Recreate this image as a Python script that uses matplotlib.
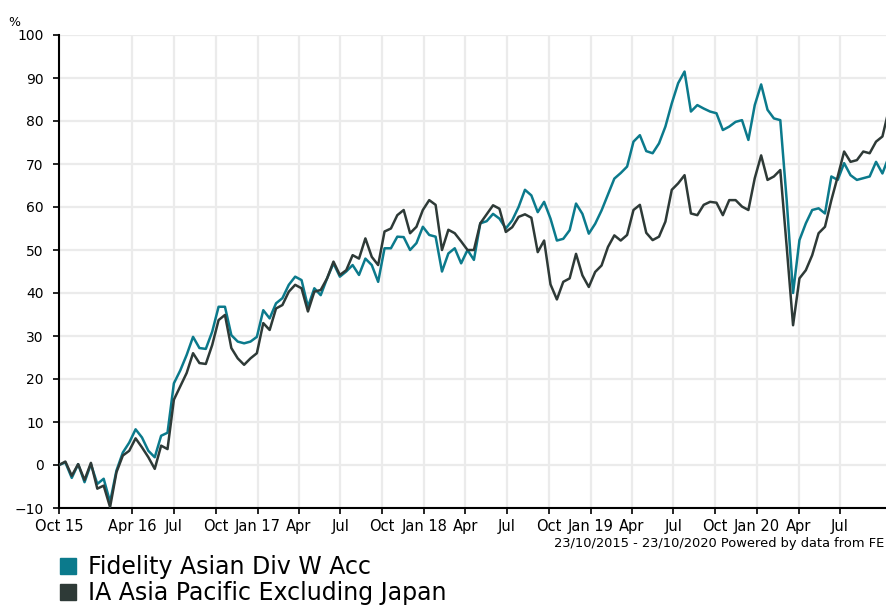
import matplotlib
matplotlib.use("Agg")
from matplotlib import pyplot as plt
from matplotlib.patches import Patch
import pandas as pd

# fortnightly cumulative performance, %
start_date = "2015-10-23"
fidelity = [
    0, 0.6, -3, 0.2, -4, 0.2, -4.4, -3.2, -8.6, -1.3,
    2.9, 5.2, 8.3, 6.4, 3.3, 1.8, 6.8, 7.5, 19, 22,
    25.6, 29.8, 27.2, 27, 31, 36.8, 36.8, 30.2, 28.7, 28.3,
    28.7, 29.8, 36, 34.1, 37.6, 38.8, 41.9, 43.8, 43, 36.8,
    41.1, 39.5, 43.4, 46.9, 43.8, 45, 46.5, 44.2, 48, 46.5,
    42.6, 50.4, 50.4, 53.1, 53, 50, 51.6, 55.4, 53.5, 53.1,
    45, 49.2, 50.4, 46.9, 50, 47.7, 56.2, 56.7, 58.4, 57.3,
    55, 56.9, 60, 64, 62.7, 58.8, 61.2, 57.3, 52.2, 52.6,
    54.6, 60.8, 58.4, 53.8, 56.1, 59.2, 62.9, 66.6, 67.9, 69.4,
    75.2, 76.7, 73, 72.5, 74.8, 78.7, 84.1, 88.8, 91.5, 82.2,
    83.7, 82.9, 82.2, 81.8, 77.9, 78.7, 79.8, 80.2, 75.6, 83.7,
    88.5, 82.6, 80.6, 80.2, 61.6, 40, 52.3, 56.2, 59.3, 59.7,
    58.5, 67.1, 66.3, 70.2, 67.4, 66.3, 66.7, 67.1, 70.5, 67.8,
    71.7,
]
sector = [
    0, 0.8, -2.5, 0.2, -3.5, 0.5, -5.5, -4.8, -9.8, -1.7,
    2.2, 3.3, 6.2, 4.1, 1.8, -0.9, 4.5, 3.7, 15.2, 18.3,
    21.4, 26, 23.7, 23.5, 27.9, 33.7, 34.9, 27.2, 24.8, 23.3,
    24.8, 26, 33, 31.4, 36.4, 37.2, 40.3, 41.9, 41.1, 35.7,
    40.3, 40.7, 43.4, 47.3, 44.2, 45.3, 48.8, 48, 52.7, 48.4,
    46.5, 54.3, 55, 58.1, 59.3, 53.9, 55.4, 59.3, 61.6, 60.5,
    50, 54.7, 53.9, 52, 50, 50, 56.2, 58.3, 60.4, 59.6,
    54.2, 55.3, 57.7, 58.3, 57.5, 49.5, 52.2, 42, 38.5, 42.6,
    43.4, 49.1, 44.1, 41.4, 44.9, 46.4, 50.7, 53.4, 52.2, 53.5,
    59.3, 60.5, 54, 52.3, 53.1, 56.6, 64, 65.5, 67.4, 58.5,
    58.1, 60.5, 61.2, 61, 58.1, 61.6, 61.6, 60.1, 59.3, 66.7,
    72, 66.3, 67.1, 68.6, 50.8, 32.5, 43.4, 45.3, 48.8, 53.9,
    55.4, 61.6, 67.1, 72.9, 70.5, 70.9, 72.9, 72.5, 75.2, 76.4,
    82.6,
]
series_names = ["Fidelity Asian Div W Acc", "IA Asia Pacific Excluding Japan"]
tick_dates = ["2015-10-23", "2016-04-01", "2016-07-01", "2016-10-01", "2017-01-01",
              "2017-04-01", "2017-07-01", "2017-10-01", "2018-01-01", "2018-04-01",
              "2018-07-01", "2018-10-01", "2019-01-01", "2019-04-01", "2019-07-01",
              "2019-10-01", "2020-01-01", "2020-04-01", "2020-07-01"]
tick_labels = ["Oct 15", "Apr 16", "Jul", "Oct", "Jan 17", "Apr", "Jul", "Oct", "Jan 18",
               "Apr", "Jul", "Oct", "Jan 19", "Apr", "Jul", "Oct", "Jan 20", "Apr", "Jul"]
y_ticks = list(range(-10, 101, 10))

TEAL = "#0b7a8c"
DARK = "#2e3a37"

dates = pd.date_range(start_date, periods=len(fidelity), freq="14D")

fig = plt.figure(figsize=(8.86, 6.07), dpi=100)
ax = fig.add_axes([59 / 886, 1 - 508 / 607, 833 / 886, 473 / 607])

ax.plot(dates, fidelity, color=TEAL, lw=1.8, solid_joinstyle="round", zorder=3)
ax.plot(dates, sector, color=DARK, lw=1.8, solid_joinstyle="round", zorder=3)

ax.set_xlim(pd.Timestamp("2015-10-23"), pd.Timestamp("2020-10-23"))
ax.set_ylim(-10, 100)
ax.set_yticks(y_ticks)
ax.set_xticks(pd.to_datetime(tick_dates))
ax.set_xticklabels(tick_labels)

ax.grid(True, color="#ebebeb", lw=1.6, zorder=0)
ax.set_axisbelow(True)
for side in ["top", "right"]:
    ax.spines[side].set_visible(False)
for side in ["left", "bottom"]:
    ax.spines[side].set_linewidth(1.5)
    ax.spines[side].set_color("black")
ax.tick_params(axis="y", length=4, width=1.2, pad=7, labelsize=10, colors="black")
ax.tick_params(axis="x", length=4, width=1.2, pad=4, labelsize=10.5, colors="black")

fig.text(8 / 886, 1 - 26 / 607, "%", fontsize=9, ha="left", va="baseline")
fig.text(884 / 886, 1 - 543 / 607, "23/10/2015 - 23/10/2020 Powered by data from FE",
         fontsize=9.4, ha="right", va="center")

handles = [Patch(color=TEAL), Patch(color=DARK)]
fig.legend(handles, series_names, loc="upper left", bbox_to_anchor=(60 / 886, 1 - 555 / 607),
           frameon=False, fontsize=17, handlelength=0.68, handleheight=0.68,
           handletextpad=0.5, labelspacing=0.08, borderpad=0, borderaxespad=0)

fig.savefig("out.png", dpi=100)
